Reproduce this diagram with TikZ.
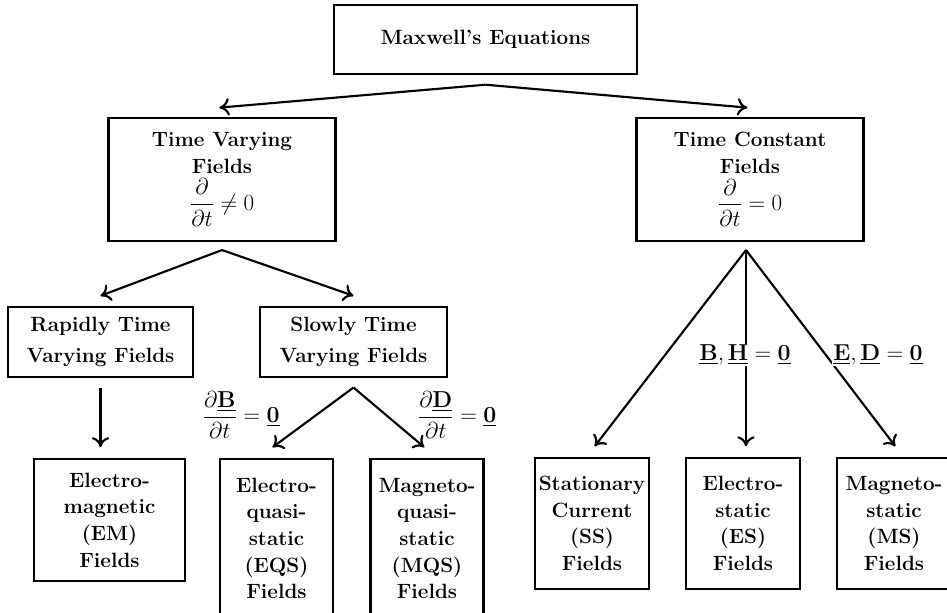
\documentclass[tikz,border=0pt]{standalone}
\usepackage{amsmath, amssymb}
\usepackage{tikz}
\usetikzlibrary{calc, positioning}
\usetikzlibrary{arrows.meta}

\tikzset{
	fbox/.style={draw, line width=1.8pt, align=center, inner sep=1pt,
		font=\bfseries\fontsize{15.5}{20}\selectfont},
	farrow/.style={line width=1.6pt, -{Computer Modern Rightarrow[length=7.5pt, width=13pt, line width=1.6pt]}},
	flabel/.style={inner sep=1pt, font=\fontsize{16}{19}\selectfont}
}
\newcommand{\boxmath}[1]{{\fontsize{18}{20}\selectfont$\displaystyle #1$}}

\begin{document}
\begin{tikzpicture}[x=0.75pt,y=0.75pt,yscale=-1,xscale=1]
		\useasboundingbox (0,0) rectangle (947,612);

		% Top level
		\node [fbox, minimum width=227pt, minimum height=52pt] (maxwell) at (485.5,39.5) {Maxwell's Equations};

		% Second level
		\node [fbox, minimum width=170pt, minimum height=92pt] (varying) at (222,179.5) {Time Varying\\Fields\\[3pt]\boxmath{\frac{\partial}{\partial t}\neq 0}};
		\node [fbox, minimum width=170pt, minimum height=92pt] (constant) at (750,179.5) {Time Constant\\Fields\\[3pt]\boxmath{\frac{\partial}{\partial t}=0}};

		% Third level
		\node [fbox, minimum width=139pt, minimum height=52.5pt] (rapid) at (100.5,342) {Rapidly Time\\[3pt]Varying Fields};
		\node [fbox, minimum width=140pt, minimum height=52.5pt] (slow) at (353.5,342) {Slowly Time\\[3pt]Varying Fields};

		% Bottom level
		\node [fbox, minimum width=113pt, minimum height=91.5pt] (em) at (109.5,520) {Electro-\\magnetic\\(EM)\\Fields};
		\node [fbox, minimum width=85pt, minimum height=119pt] (eqs) at (276.5,538.5) {Electro-\\quasi-\\static\\(EQS)\\Fields};
		\node [fbox, minimum width=85pt, minimum height=119pt] (mqs) at (427,538.5) {Magneto-\\quasi-\\static\\(MQS)\\Fields};
		\node [fbox, minimum width=85.5pt, minimum height=98pt] (ss) at (592,523.5) {Stationary\\Current\\(SS)\\Fields};
		\node [fbox, minimum width=85.5pt, minimum height=98pt] (es) at (743,523.5) {Electro-\\static\\(ES)\\Fields};
		\node [fbox, minimum width=85.5pt, minimum height=98pt] (ms) at (894,523.5) {Magneto-\\static\\(MS)\\Fields};

		% Split points (yscale=-1, so a positive yshift goes down)
		\coordinate (maxwell-split) at ([yshift=7pt]maxwell.south);
		\coordinate (varying-split) at ([yshift=6pt]varying.south);
		\coordinate (constant-split) at ([xshift=-3pt,yshift=6pt]constant.south);
		\coordinate (slow-split) at ([yshift=7pt]slow.south);

		% Arrows
		\draw [farrow] (maxwell-split) -- ([xshift=-2pt,yshift=-7pt]varying.north);
		\draw [farrow] (maxwell-split) -- ([xshift=-2pt,yshift=-7pt]constant.north);
		\draw [farrow] (varying-split) -- ([yshift=-7.5pt]rapid.north);
		\draw [farrow] (varying-split) -- ([yshift=-7.5pt]slow.north);
		\draw [farrow] ([yshift=7pt]rapid.south) -- ([yshift=-8pt]rapid.south |- em.north);
		\draw [farrow] (slow-split) -- ([xshift=-3pt,yshift=-8pt]eqs.north);
		\draw [farrow] (slow-split) -- ([xshift=-2pt,yshift=-8pt]mqs.north);
		\draw [farrow] (constant-split) -- ([xshift=2pt,yshift=-8pt]ss.north);
		\draw [farrow] (constant-split) -- ([yshift=-8pt]constant-split |- es.north);
		\draw [farrow] (constant-split) -- ([xshift=1pt,yshift=-8pt]ms.north);

		% Text Node
		\node [flabel] (bcond) at (241,415) {$\displaystyle\frac{\partial\underline{\mathbf{B}}}{\partial t}=\underline{\mathbf{0}}$};
		% Text Node
		\node [flabel] (dcond) at (457,415) {$\displaystyle\frac{\partial\underline{\mathbf{D}}}{\partial t}=\underline{\mathbf{0}}$};
		% Text Node
		\node [flabel, fill=white] (bhcond) at (745,355) {$\underline{\mathbf{B}},\underline{\mathbf{H}}=\underline{\mathbf{0}}$};
		% Text Node
		\node [flabel, fill=white] (edcond) at (878,355) {$\underline{\mathbf{E}},\underline{\mathbf{D}}=\underline{\mathbf{0}}$};

	\end{tikzpicture}
\end{document}
